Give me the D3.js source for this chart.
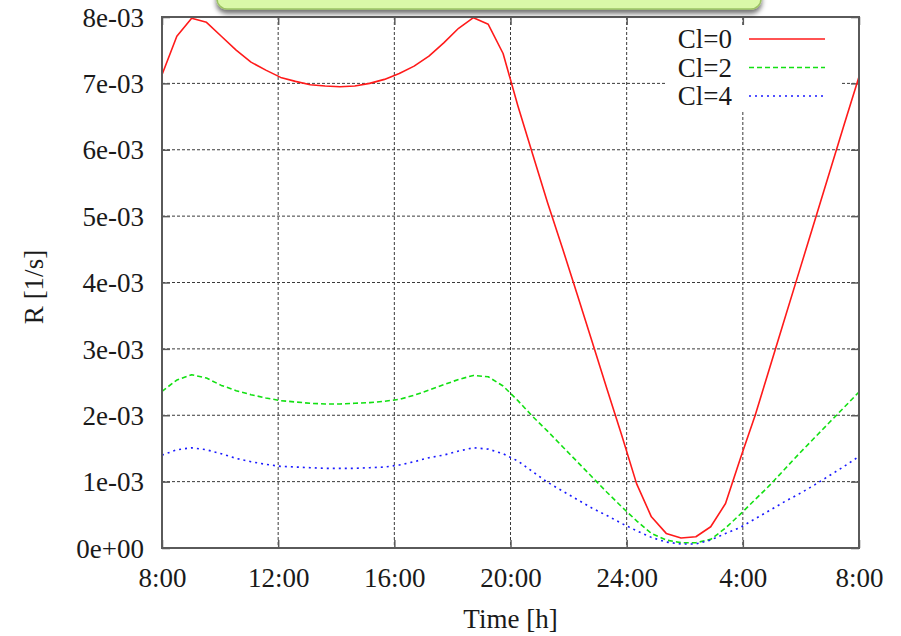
<!DOCTYPE html>
<html>
<head>
<meta charset="utf-8">
<script src="https://cdn.jsdelivr.net/npm/d3@7"></script>
<style>
  html, body { margin: 0; padding: 0; background: #fff; }
  svg { display: block; }
</style>
</head>
<body>
<script>
// Reaction rate over one day, 48 samples from 8:00 to 8:00 the next morning (units of 1e-3 1/s)
const sampleCount = 48;
const hourTicks  = [8, 12, 16, 20, 24, 28, 32];
const hourLabels = ["8:00", "12:00", "16:00", "20:00", "24:00", "4:00", "8:00"];
const rateTicks  = [0, 1, 2, 3, 4, 5, 6, 7, 8];
const rateLabels = ["0e+00", "1e-03", "2e-03", "3e-03", "4e-03", "5e-03", "6e-03", "7e-03", "8e-03"];
const seriesNames = ["Cl=0", "Cl=2", "Cl=4"];

const rateCl0 = [7.13, 7.71, 7.98, 7.92, 7.71, 7.50, 7.32, 7.20, 7.09, 7.03, 6.98, 6.96,
                 6.95, 6.96, 7.00, 7.06, 7.15, 7.26, 7.41, 7.61, 7.83, 7.99, 7.89, 7.45,
                 6.66, 5.93, 5.20, 4.52, 3.82, 3.11, 2.40, 1.70, 0.97, 0.47, 0.22, 0.15,
                 0.17, 0.32, 0.67, 1.35, 2.00, 2.73, 3.46, 4.19, 4.92, 5.65, 6.38, 7.10];
const rateCl2 = [2.36, 2.53, 2.61, 2.56, 2.45, 2.37, 2.31, 2.26, 2.22, 2.20, 2.18, 2.17,
                 2.17, 2.18, 2.19, 2.21, 2.24, 2.30, 2.38, 2.46, 2.54, 2.60, 2.58, 2.44,
                 2.22, 1.98, 1.76, 1.53, 1.30, 1.07, 0.84, 0.62, 0.41, 0.22, 0.12, 0.08,
                 0.08, 0.13, 0.30, 0.51, 0.73, 0.95, 1.19, 1.43, 1.66, 1.89, 2.12, 2.35];
const rateCl4 = [1.40, 1.48, 1.51, 1.48, 1.42, 1.35, 1.30, 1.26, 1.23, 1.22, 1.21, 1.20,
                 1.20, 1.20, 1.21, 1.22, 1.25, 1.30, 1.36, 1.40, 1.46, 1.51, 1.49, 1.42,
                 1.31, 1.15, 0.99, 0.86, 0.73, 0.60, 0.49, 0.37, 0.26, 0.16, 0.09, 0.06,
                 0.06, 0.12, 0.22, 0.31, 0.44, 0.57, 0.70, 0.82, 0.95, 1.09, 1.23, 1.38];

const W = 901, H = 636;
const plot = { left: 162, right: 859, top: 17, bottom: 548 };
const font = "'Liberation Serif', 'Times New Roman', serif";

const svg = d3.select("body").append("svg").attr("width", W).attr("height", H);

// Shadow for the header box
const defs = svg.append("defs");
const flt = defs.append("filter").attr("id", "shadow")
  .attr("x", "-10%").attr("y", "-50%").attr("width", "120%").attr("height", "250%");
flt.append("feDropShadow").attr("dx", 0).attr("dy", 4).attr("stdDeviation", 2.6)
  .attr("flood-color", "#000").attr("flood-opacity", 0.55);

// Scales
const sampleToHour = d3.scaleLinear().domain([0, sampleCount - 1]).range([8, 32]);
const x = d3.scaleLinear().domain([8, 32]).range([plot.left, plot.right]);
const y = d3.scaleLinear().domain([0, 8]).range([plot.bottom, plot.top]);

// Grid
const grid = svg.append("g").attr("stroke", "#3a3a3a").attr("stroke-width", 1)
  .attr("stroke-dasharray", "3,2").attr("fill", "none");
grid.selectAll("line.v").data(hourTicks.slice(1, -1)).join("line")
  .attr("x1", d => x(d)).attr("x2", d => x(d))
  .attr("y1", plot.top).attr("y2", plot.bottom);
grid.selectAll("line.h").data(rateTicks.slice(1, -1)).join("line")
  .attr("x1", plot.left).attr("x2", plot.right)
  .attr("y1", d => y(d)).attr("y2", d => y(d));

// Legend background
svg.append("rect").attr("x", 665).attr("y", 25).attr("width", 176).attr("height", 87)
  .attr("fill", "#fff");

// Axes with mirrored inward ticks
const tickLen = 8;
const axisColor = "#5a5a5a";
const xAxisB = d3.axisBottom(x).tickValues(hourTicks).tickSize(-tickLen)
  .tickFormat((d, i) => hourLabels[i]);
const xAxisT = d3.axisTop(x).tickValues(hourTicks).tickSize(-tickLen).tickFormat("");
const yAxisL = d3.axisLeft(y).tickValues(rateTicks).tickSize(-tickLen)
  .tickFormat((d, i) => rateLabels[i]);
const yAxisR = d3.axisRight(y).tickValues(rateTicks).tickSize(-tickLen).tickFormat("");

function styleAxis(g) {
  g.select(".domain").remove();
  g.selectAll(".tick line").attr("stroke", axisColor).attr("stroke-width", 1.5);
  g.selectAll("text").attr("font-family", font).attr("font-size", 27).attr("fill", "#1a1a1a");
}
svg.append("g").attr("transform", `translate(0,${plot.bottom})`).call(xAxisB).call(styleAxis)
  .selectAll("text").attr("y", 39).attr("dy", "0");
svg.append("g").attr("transform", `translate(0,${plot.top})`).call(xAxisT).call(styleAxis);
svg.append("g").attr("transform", `translate(${plot.left},0)`).call(yAxisL).call(styleAxis)
  .selectAll("text").attr("x", -18).attr("dy", "0.34em");
svg.append("g").attr("transform", `translate(${plot.right},0)`).call(yAxisR).call(styleAxis);

// Curves
const series = [
  { name: seriesNames[0], values: rateCl0, color: "#ff1a1a", dash: null },
  { name: seriesNames[1], values: rateCl2, color: "#12e012", dash: "5,3" },
  { name: seriesNames[2], values: rateCl4, color: "#1a1aff", dash: "2,4" }
];
const line = d3.line().x((d, i) => x(sampleToHour(i))).y(d => y(d));
svg.append("g").selectAll("path").data(series).join("path")
  .attr("d", d => line(d.values))
  .attr("fill", "none")
  .attr("stroke", d => d.color)
  .attr("stroke-width", 1.6)
  .attr("stroke-dasharray", d => d.dash)
  .attr("stroke-linejoin", "round");

// Plot border
svg.append("rect").attr("x", plot.left).attr("y", plot.top)
  .attr("width", plot.right - plot.left).attr("height", plot.bottom - plot.top)
  .attr("fill", "none").attr("stroke", axisColor).attr("stroke-width", 2);

// Legend
const legend = svg.append("g");
series.forEach((s, i) => {
  const yy = 39 + i * 28.5;
  legend.append("text").attr("x", 732).attr("y", yy).attr("dy", "0.34em")
    .attr("text-anchor", "end").attr("font-family", font).attr("font-size", 27)
    .attr("fill", "#1a1a1a").text(s.name);
  legend.append("line").attr("x1", 749).attr("x2", 825).attr("y1", yy).attr("y2", yy)
    .attr("stroke", s.color).attr("stroke-width", 1.6).attr("stroke-dasharray", s.dash);
});

// Axis titles
svg.append("text").attr("x", (plot.left + plot.right) / 2).attr("y", 628)
  .attr("text-anchor", "middle").attr("font-family", font).attr("font-size", 27)
  .attr("fill", "#1a1a1a").text("Time [h]");
svg.append("text").attr("transform", "translate(43,287) rotate(-90)")
  .attr("text-anchor", "middle").attr("font-family", font).attr("font-size", 27)
  .attr("fill", "#1a1a1a").text("R [1/s]");

// Header box at the top edge
svg.append("rect").attr("x", 217).attr("y", -30).attr("width", 544).attr("height", 39)
  .attr("rx", 10).attr("ry", 10)
  .attr("fill", "#daf8a8").attr("stroke", "#9cc264").attr("stroke-width", 1.5)
  .attr("filter", "url(#shadow)");
</script>
</body>
</html>
